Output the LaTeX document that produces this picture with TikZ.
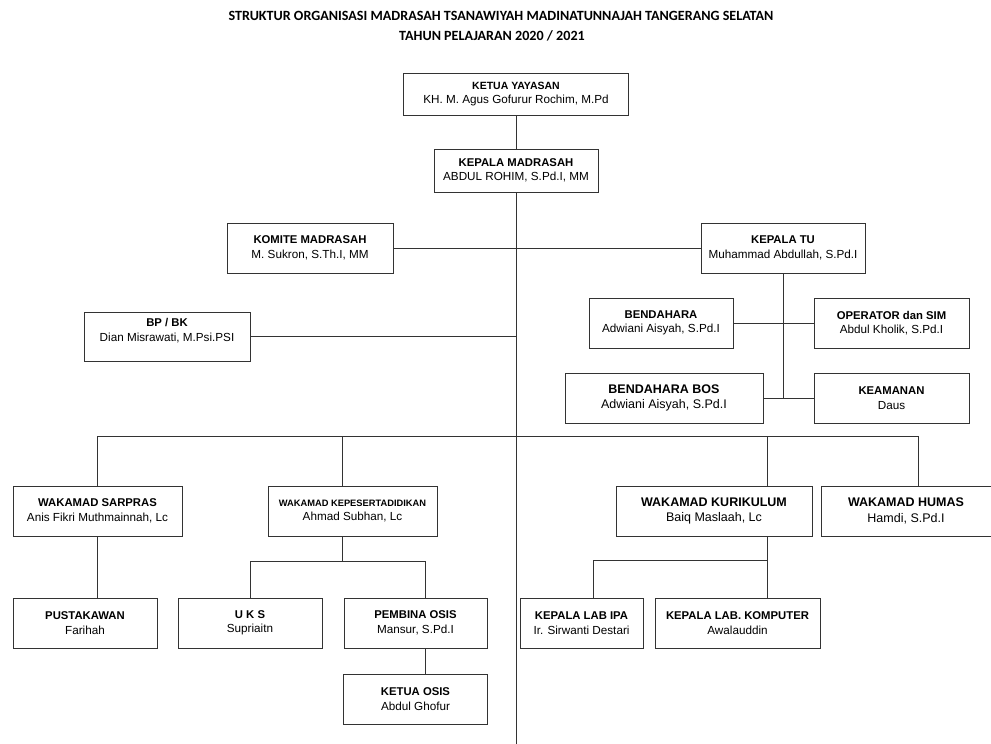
\documentclass[tikz,border=0pt]{standalone}
\usepackage{fontspec}
\setsansfont{Liberation Sans}
\newfontfamily\judulfont{Carlito}
\newcommand{\jb}[1]{{\bfseries\fontsize{11.3}{14}\selectfont #1}}
\usetikzlibrary{positioning}

\begin{document}
\begin{tikzpicture}[
        x=1pt, y=-1pt,
        node distance=20pt,
        jabatan/.style={rectangle, draw=black!80, line width=1pt, fill=white, minimum height=50pt, inner sep=0pt, align=center, text=black, font=\sffamily\fontsize{11.7}{14.5}\selectfont},
        besar/.style={jabatan, font=\sffamily\fontsize{12.5}{15.5}\selectfont},
        garis/.style={draw=black!80, line width=1pt},
        judul/.style={font=\judulfont\bfseries\fontsize{14.1}{16}\selectfont, text=black}
    ]
    \useasboundingbox (0,0) rectangle (991,744);
%
    % Judul
    \node[judul] (judul1) at (501,16) {STRUKTUR ORGANISASI MADRASAH TSANAWIYAH MADINATUNNAJAH TANGERANG SELATAN};
    \node[judul] (judul2) at (492,36) {TAHUN PELAJARAN 2020 / 2021};
%
    % Pimpinan
    \node[jabatan, minimum width=225pt, minimum height=42pt] (yayasan) at (516,94) {{\bfseries\fontsize{10.5}{14}\selectfont KETUA YAYASAN}\\KH. M. Agus Gofurur Rochim, M.Pd};
    \node[jabatan, minimum width=164pt, minimum height=43pt, below=33pt of yayasan] (madrasah) {\jb{KEPALA MADRASAH}\\ABDUL ROHIM, S.Pd.I, MM};
    \coordinate (ujung) at (516,744);
%
    % Komite, TU dan BP/BK
    \node[jabatan, minimum width=166pt] (komite) at (310,248) {\jb{KOMITE MADRASAH}\\M. Sukron, S.Th.I, MM};
    \node[jabatan, minimum width=164pt] (kepalatu) at (783,248) {\jb{KEPALA TU}\\Muhammad Abdullah, S.Pd.I};
    \node[jabatan, minimum width=166pt, minimum height=49pt, text depth=13pt] (bpbk) at (167,336.5) {\jb{BP / BK}\\Dian Misrawati, M.Psi.PSI};
    \node[jabatan, minimum width=144pt] (bendahara) at (661,323) {\jb{BENDAHARA}\\Adwiani Aisyah, S.Pd.I};
    \node[jabatan, minimum width=155pt, right=80pt of bendahara] (operator) {\jb{OPERATOR dan SIM}\\Abdul Kholik, S.Pd.I};
    \node[besar, minimum width=198pt] (bendbos) at (664,398) {\textbf{BENDAHARA BOS}\\Adwiani Aisyah, S.Pd.I};
    \node[jabatan, minimum width=155pt, right=50pt of bendbos] (keamanan) {\jb{KEAMANAN}\\Daus};
%
    % Wakamad
    \coordinate (bus) at (0,436);
    \node[jabatan, minimum width=169pt] (sarpras) at (97.5,511) {\jb{WAKAMAD SARPRAS}\\Anis Fikri Muthmainnah, Lc};
    \node[jabatan, minimum width=169pt, right=85pt of sarpras] (kepeserta) {{\bfseries\fontsize{9.3}{12}\selectfont WAKAMAD KEPESERTADIDIKAN}\\Ahmad Subhan, Lc};
    \node[besar, minimum width=196pt] (kurikulum) at (714,511) {\textbf{WAKAMAD KURIKULUM}\\Baiq Maslaah, Lc};
    \node[besar, minimum width=170pt, right=8pt of kurikulum] (humas) {\textbf{WAKAMAD HUMAS}\\Hamdi, S.Pd.I};
%
    % Bawahan wakamad
    \coordinate (cabkep) at (0,561);
    \coordinate (cabkur) at (0,560);
    \node[jabatan, minimum width=144pt] (pustakawan) at (85,623) {\jb{PUSTAKAWAN}\\Farihah};
    \node[jabatan, minimum width=144pt, right=20pt of pustakawan] (uks) {\jb{U K S}\\Supriaitn};
    \node[jabatan, minimum width=143pt, right=21pt of uks] (pembina) {\jb{PEMBINA OSIS}\\Mansur, S.Pd.I};
    \node[jabatan, minimum width=144pt, below=25pt of pembina] (ketuaosis) {\jb{KETUA OSIS}\\Abdul Ghofur};
    \node[jabatan, minimum width=123pt] (labipa) at (581.5,623) {\jb{KEPALA LAB IPA}\\Ir. Sirwanti Destari};
    \node[jabatan, minimum width=165pt, right=11pt of labipa] (labkomp) {\jb{KEPALA LAB. KOMPUTER}\\Awalauddin};
%
    % Garis komando
    \draw[garis] (yayasan) -- (madrasah);
    \draw[garis] (madrasah.south) -- (ujung);
    \draw[garis] (komite.east) -- (kepalatu.west);
    \draw[garis] (bpbk.east) -- (bpbk.east -| ujung);
    \draw[garis] (kepalatu.south) -- (kepalatu.south |- keamanan.west);
    \draw[garis] (bendahara) -- (operator);
    \draw[garis] (bendbos) -- (keamanan);
%
    % Garis wakamad
    \draw[garis] (sarpras.north) -- (sarpras.north |- bus) -- ([xshift=12pt]humas.north |- bus) -- ([xshift=12pt]humas.north);
    \draw[garis] ([xshift=-10pt]kepeserta.north) -- ([xshift=-10pt]kepeserta.north |- bus);
    \draw[garis] ([xshift=53pt]kurikulum.north) -- ([xshift=53pt]kurikulum.north |- bus);
    \draw[garis] (sarpras.south) -- (sarpras.south |- pustakawan.north);
    \draw[garis] ([xshift=-10pt]kepeserta.south) -- ([xshift=-10pt]kepeserta.south |- cabkep);
    \draw[garis] (uks.north) |- ([xshift=9.5pt]pembina.north |- cabkep) -- ([xshift=9.5pt]pembina.north);
    \draw[garis] ([xshift=9.5pt]pembina.south) -- ([xshift=9.5pt]pembina.south |- ketuaosis.north);
    \draw[garis] ([xshift=53pt]kurikulum.south) -- ([xshift=53pt]kurikulum.south |- labkomp.north);
    \draw[garis] ([xshift=11.5pt]labipa.north) |- ([xshift=53pt]kurikulum.south |- cabkur);
%
\end{tikzpicture}
\end{document}
